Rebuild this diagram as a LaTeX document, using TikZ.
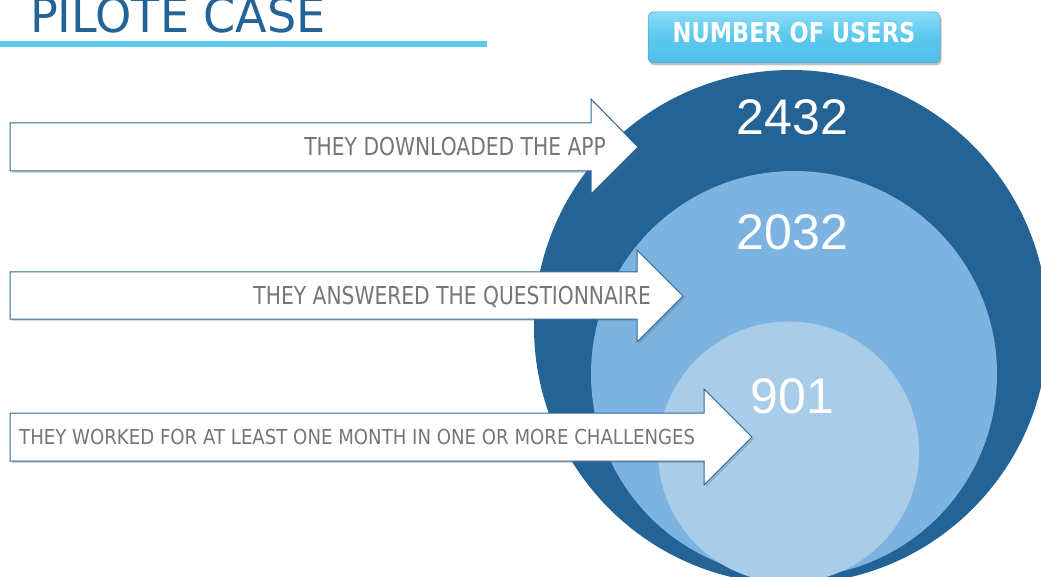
\documentclass[tikz,border=0pt]{standalone}
\usepackage{fontspec}
\setmainfont{DejaVu Sans}
\newfontfamily\labfont[FakeStretch=0.82]{DejaVu Sans}
\newfontfamily\labwidefont[FakeStretch=0.88]{DejaVu Sans}
\newfontfamily\titlefont[FakeStretch=0.96]{DejaVu Sans}
\newfontfamily\numfont{Liberation Sans}
\usetikzlibrary{shadows}
\definecolor{darkblue}{HTML}{246396}
\definecolor{midblue}{HTML}{7DB3E0}
\definecolor{lightblue}{HTML}{A9CDE8}
\definecolor{cyanline}{HTML}{5BC8EE}
\definecolor{buttontop}{HTML}{8ADBF6}
\definecolor{buttonbot}{HTML}{4FBFEA}
\definecolor{arrowline}{HTML}{2A6599}
\definecolor{labgray}{HTML}{767676}
\tikzset{
  arrowshape/.style={fill=white, draw=arrowline, line width=1pt, line join=miter,
    drop shadow={shadow xshift=2pt, shadow yshift=-2pt, opacity=0.25, fill=black!60}},
  lab/.style={inner sep=0pt, text=labgray, font=\labfont\fontsize{24.7}{26}\selectfont},
  num/.style={inner sep=0pt, text=white, font=\numfont\fontsize{50}{52}\selectfont, anchor=base},
}
\begin{document}
\begin{tikzpicture}[x=1pt, y=-1pt]
\useasboundingbox (0,0) rectangle (1041,577);
\clip (0,0) rectangle (1041,577);
% circles
\fill[darkblue] (791,327) circle[radius=257];
\fill[midblue] (794,374) circle[radius=203];
\fill[lightblue] (788.5,452) circle[radius=130.5];
% title
\node[inner sep=0pt, anchor=base west, text=darkblue, font=\titlefont\fontsize{48}{50}\selectfont] (title) at (30,33) {PILOTE CASE};
\fill[cyanline] (0,41) rectangle (487,47);
% button
\node[draw=buttonbot!85!black, line width=0.5pt, rounded corners=5pt, top color=buttontop, bottom color=buttonbot,
  middle color=cyanline, minimum width=292pt, minimum height=51pt, inner sep=0pt,
  drop shadow={shadow xshift=1.5pt, shadow yshift=-2.5pt, opacity=0.35, fill=black!70}] (button) at (794,37.5) {};
\node[inner sep=0pt, anchor=base, text=white, font=\labfont\bfseries\fontsize{27.4}{28}\selectfont] (buttontext) at (794,43) {NUMBER OF USERS};
% numbers
\node[num] (n1) at (792.5,135) {2432};
\node[num] (n2) at (792.5,250) {2032};
\node[num] (n3) at (792.5,413) {901};
% arrows
\path[arrowshape] (10,123) -- (591,123) -- (591,99) -- (638,147) -- (591,194) -- (591,171) -- (10,171) -- cycle;
\path[arrowshape] (10,272) -- (637,272) -- (637,250) -- (683,296) -- (637,342) -- (637,319) -- (10,319) -- cycle;
\path[arrowshape] (10,413) -- (704,413) -- (704,389) -- (752,437) -- (704,485) -- (704,461) -- (10,461) -- cycle;
\node[lab, anchor=base east] (l1) at (606,156) {THEY DOWNLOADED THE APP};
\node[lab, anchor=base east] (l2) at (651,305) {THEY ANSWERED THE QUESTIONNAIRE};
\node[lab, anchor=base west, font=\labwidefont\fontsize{20.6}{22}\selectfont] (l3) at (19,444) {THEY WORKED FOR AT LEAST ONE MONTH IN ONE OR MORE CHALLENGES};
\end{tikzpicture}
\end{document}
